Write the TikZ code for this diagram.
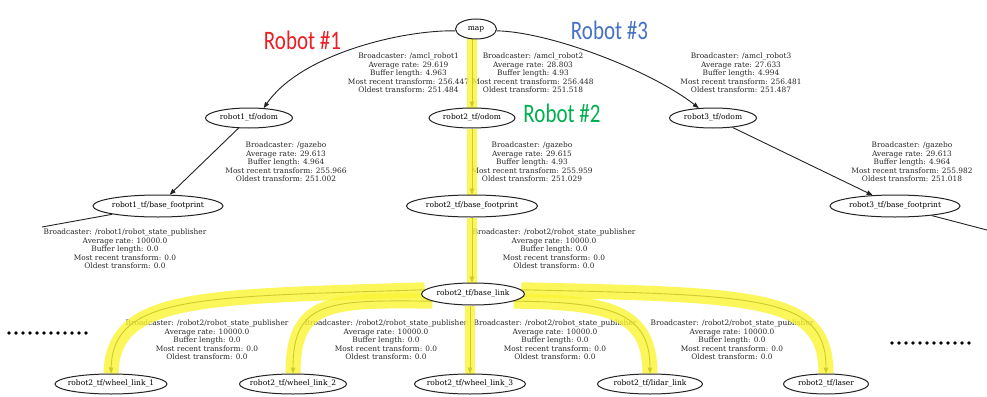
\documentclass[tikz,border=0pt]{standalone}
\usepackage{graphicx}
\usepackage{fontspec}
\setmainfont{DejaVu Serif}
\newfontfamily\calib{Carlito}
\usetikzlibrary{shapes.geometric,arrows.meta}
\pgfdeclarelayer{hl}
\pgfdeclarelayer{front}
\pgfsetlayers{main,hl,front}
\definecolor{hlyellow}{RGB}{250,245,50}
\definecolor{robred}{RGB}{235,30,35}
\definecolor{robblue}{RGB}{68,114,196}
\definecolor{robgreen}{RGB}{0,176,80}
\definecolor{edgecol}{RGB}{35,35,35}
\begin{document}
\begin{tikzpicture}[x=1pt,y=-1pt,
  tfnode/.style={ellipse,draw=edgecol,line width=1pt,fill=white,inner sep=0pt,minimum height=20pt,font=\fontsize{7.5}{8.6}\selectfont},
  info/.style={align=center,inner sep=0pt,font=\fontsize{7.4}{8.6}\selectfont,text=black!85},
  tfedge/.style={draw=edgecol,line width=0.9pt,-{Triangle[length=6pt,width=4.5pt]}},
  plainedge/.style={draw=edgecol,line width=0.9pt},
  glowv/.style={draw=hlyellow,opacity=0.8,line width=10pt},
  glowc/.style={draw=hlyellow,opacity=0.8,line width=15pt},
  robotlbl/.style={font=\calib\fontsize{21}{24}\selectfont,anchor=base,inner sep=0pt}]
\fill[white] (0,0) rectangle (987,396);
\useasboundingbox (0,0) rectangle (987,396);

\begin{pgfonlayer}{front}
\node[tfnode,minimum width=41pt] (map) at (476,29) {\makebox[0pt]{map}};
\node[tfnode,minimum width=87pt] (r1odom) at (249,118) {\makebox[0pt]{robot1\_tf/odom}};
\node[tfnode,minimum width=86pt] (r2odom) at (472,118) {\makebox[0pt]{robot2\_tf/odom}};
\node[tfnode,minimum width=87pt] (r3odom) at (713,118) {\makebox[0pt]{robot3\_tf/odom}};
\node[tfnode,minimum width=130pt,minimum height=22pt] (r1bf) at (158,206) {\makebox[0pt]{robot1\_tf/base\_footprint}};
\node[tfnode,minimum width=131pt,minimum height=22pt] (r2bf) at (472,206) {\makebox[0pt]{robot2\_tf/base\_footprint}};
\node[tfnode,minimum width=130pt,minimum height=22pt] (r3bf) at (895,206) {\makebox[0pt]{robot3\_tf/base\_footprint}};
\node[tfnode,minimum width=103pt,minimum height=22pt] (blink) at (473,294) {\makebox[0pt]{robot2\_tf/base\_link}};
\node[tfnode,minimum width=112pt] (wl1) at (111,384) {\makebox[0pt]{robot2\_tf/wheel\_link\_1}};
\node[tfnode,minimum width=107pt] (wl2) at (293,384) {\makebox[0pt]{robot2\_tf/wheel\_link\_2}};
\node[tfnode,minimum width=111pt] (wl3) at (470,384) {\makebox[0pt]{robot2\_tf/wheel\_link\_3}};
\node[tfnode,minimum width=105pt] (lidar) at (650,384) {\makebox[0pt]{robot2\_tf/lidar\_link}};
\node[tfnode,minimum width=85pt] (laser) at (826,384) {\makebox[0pt]{robot2\_tf/laser}};
\end{pgfonlayer}

\coordinate (offL) at (42,227);
\coordinate (offR) at (987,230);

% edges
\draw[tfedge] (map.185) .. controls (400,30) and (300,55) .. (r1odom.34);
\draw[tfedge] (map.south -| r2odom.north) -- (r2odom.north);
\draw[tfedge] (map.-5) .. controls (550,32) and (650,70) .. (r3odom.145);
\draw[tfedge] (r1odom) -- (r1bf);
\draw[tfedge] (r2odom) -- (r2bf);
\draw[tfedge] (r3odom) -- (r3bf);
\draw[plainedge] (r1bf) -- (offL);
\draw[plainedge] (r3bf) -- (offR);
\draw[tfedge] (r2bf.south) -- (r2bf.south |- blink.north);
\draw[tfedge] (blink.175) .. controls (200,297) and (113,295) .. (wl1.north);
\draw[tfedge] (blink.190) .. controls (330,300) and (293,300) .. (wl2.north);
\draw[tfedge] (blink.south -| wl3.north) -- (wl3.north);
\draw[tfedge] (blink.-10) .. controls (610,302) and (650,312) .. (lidar.north);
\draw[tfedge] (blink.5) .. controls (760,295) and (826,296) .. (laser.north);

% edge labels
\node[info] (lab1) at (408.5,73) {Broadcaster: /amcl\_robot1\\Average rate: 29.619\\Buffer length: 4.963\\Most recent transform: 256.447\\Oldest transform: 251.484};
\node[info] (lab2) at (533,73) {Broadcaster: /amcl\_robot2\\Average rate: 28.803\\Buffer length: 4.93\\Most recent transform: 256.448\\Oldest transform: 251.518};
\node[info] (lab3) at (741,73) {Broadcaster: /amcl\_robot3\\Average rate: 27.633\\Buffer length: 4.994\\Most recent transform: 256.481\\Oldest transform: 251.487};
\node[info] (lab4) at (286,162) {Broadcaster: /gazebo\\Average rate: 29.613\\Buffer length: 4.964\\Most recent transform: 255.966\\Oldest transform: 251.002};
\node[info] (lab5) at (532,162) {Broadcaster: /gazebo\\Average rate: 29.615\\Buffer length: 4.93\\Most recent transform: 255.959\\Oldest transform: 251.029};
\node[info] (lab6) at (912,162) {Broadcaster: /gazebo\\Average rate: 29.613\\Buffer length: 4.964\\Most recent transform: 255.982\\Oldest transform: 251.018};
\node[info] (lab7) at (125,249) {Broadcaster: /robot1/robot\_state\_publisher\\Average rate: 10000.0\\Buffer length: 0.0\\Most recent transform: 0.0\\Oldest transform: 0.0};
\node[info] (lab8) at (554,249) {Broadcaster: /robot2/robot\_state\_publisher\\Average rate: 10000.0\\Buffer length: 0.0\\Most recent transform: 0.0\\Oldest transform: 0.0};
\node[info] (lab9) at (207,340) {Broadcaster: /robot2/robot\_state\_publisher\\Average rate: 10000.0\\Buffer length: 0.0\\Most recent transform: 0.0\\Oldest transform: 0.0};
\node[info] (lab10) at (386,340) {Broadcaster: /robot2/robot\_state\_publisher\\Average rate: 10000.0\\Buffer length: 0.0\\Most recent transform: 0.0\\Oldest transform: 0.0};
\node[info] (lab11) at (555,340) {Broadcaster: /robot2/robot\_state\_publisher\\Average rate: 10000.0\\Buffer length: 0.0\\Most recent transform: 0.0\\Oldest transform: 0.0};
\node[info] (lab12) at (732,340) {Broadcaster: /robot2/robot\_state\_publisher\\Average rate: 10000.0\\Buffer length: 0.0\\Most recent transform: 0.0\\Oldest transform: 0.0};

% robot labels
\node[robotlbl,text=robred] (rob1) at (302.5,50) {\scalebox{1}[1.27]{Robot \#1}};
\node[robotlbl,text=robblue] (rob3) at (609.5,39.5) {\scalebox{1}[1.27]{Robot \#3}};
\node[robotlbl,text=robgreen] (rob2) at (562,122.7) {\scalebox{1}[1.27]{Robot \#2}};

% dots
\foreach \i in {0,...,11} {
  \fill[black] (9+7*\i,333) circle[radius=1.8pt];
  \fill[black] (892+7*\i,343) circle[radius=1.8pt];
}

% highlight
\begin{pgfonlayer}{hl}
\draw[glowv] (map.south -| r2odom.north) -- (r2odom.north);
\draw[glowv] (r2odom) -- (r2bf);
\draw[glowv] (r2bf.south) -- (r2bf.south |- blink.north);
\draw[glowc] (blink.175) .. controls (200,297) and (113,295) .. (wl1.north);
\draw[glowc] (blink.190) .. controls (330,300) and (293,300) .. (wl2.north);
\draw[glowv] (blink.south -| wl3.north) -- (wl3.north);
\draw[glowc] (blink.-10) .. controls (610,302) and (650,312) .. (lidar.north);
\draw[glowc] (blink.5) .. controls (760,295) and (826,296) .. (laser.north);
\end{pgfonlayer}
\end{tikzpicture}
\end{document}
